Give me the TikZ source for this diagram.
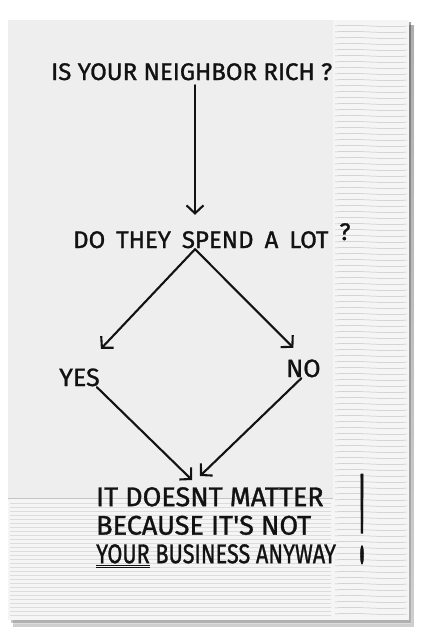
\documentclass[tikz,border=0pt]{standalone}
\usepackage{fontspec}
\setmainfont{Fira Sans}
\newfontfamily\markerfont{Fira Sans}[FakeBold=1.2]
\usepackage{tikz}
\usetikzlibrary{arrows.meta}
\definecolor{napkin}{HTML}{EEEEEE}
\definecolor{fold}{HTML}{F5F5F5}
\definecolor{crease}{HTML}{C4C4C4}
\definecolor{shade}{HTML}{8C8C8C}
\definecolor{ink}{HTML}{121212}
\tikzset{
  hand/.style={font=\markerfont\fontsize{24}{28}\selectfont, text=ink, inner sep=1pt},
  quest/.style={hand, text height=17pt, text depth=0pt},
  reply/.style={hand, font=\markerfont\fontsize{25}{30}\selectfont, text height=18pt, text depth=0pt},
  verdict/.style={hand, font=\markerfont\fontsize{27}{28.5}\selectfont, align=left},
  arr/.style={-{Straight Barb[length=8pt,width=17pt]}, line width=2.1pt, draw=ink, line cap=round},
  ridge/.style={draw=crease, line width=0.5pt},
}
\begin{document}
\begin{tikzpicture}[x=1pt, y=-1pt]
  \useasboundingbox (0,0) rectangle (427,640);
  \fill[white] (0,0) rectangle (427,640);
  % napkin and its shadow
  \fill[shade, opacity=0.25] (13,25) rectangle (414,627);
  \fill[shade, opacity=0.3] (11,22) rectangle (411,623);
  \fill[napkin] (8,20) rectangle (409,620);
  \fill[fold] (333,20) rectangle (409,620);
  \fill[fold] (8,498) rectangle (409,620);
  \foreach \y in {26,32,...,614}
    \draw[ridge] (335,\y) .. controls (355,\y-2) and (385,\y+2) .. (407,\y);
  \foreach \y in {503,507,...,615}
    \draw[ridge, crease!60] (10,\y) -- (331,\y);
  \draw[crease, line width=0.8pt] (8,498) -- (333,498);

  \node[quest, anchor=base west] (rich) at (50,80) {IS YOUR NEIGHBOR RICH ?};
  \node[quest, anchor=base west] (spend) at (72,248) {\spaceskip=11pt DO THEY SPEND A LOT \raisebox{8pt}{?}};
  \node[reply, anchor=base west] (yes) at (58,386) {YES};
  \node[reply, anchor=base west] (no) at (285,377) {NO};
  \node[verdict, anchor=north west] (matter) at (95,486) {IT DOESNT MATTER\\BECAUSE IT'S NOT\\\scalebox{0.8}[1]{\underline{\underline{YOUR}} BUSINESS ANYWAY}};
  \node[hand, font=\markerfont\fontsize{44}{44}\selectfont, xscale=0.55, yscale=2.9] (bang) at (362,519) {!};

  \draw[arr, shorten <=4pt, shorten >=15pt] ([xshift=145pt]rich.south west) -- ([xshift=123pt]spend.north west);
  \draw[arr] ([xshift=123pt]spend.south west) -- ([xshift=0pt, yshift=18pt]yes.north east);
  \draw[arr] ([xshift=123pt]spend.south west) -- ([xshift=-10pt, yshift=10pt]no.north);
  \draw[arr] ([xshift=-4pt]yes.south east) -- ([xshift=97pt, yshift=6pt]matter.north west);
  \draw[arr] ([xshift=-2pt]no.south) -- ([xshift=105pt, yshift=10pt]matter.north west);
\end{tikzpicture}
\end{document}
